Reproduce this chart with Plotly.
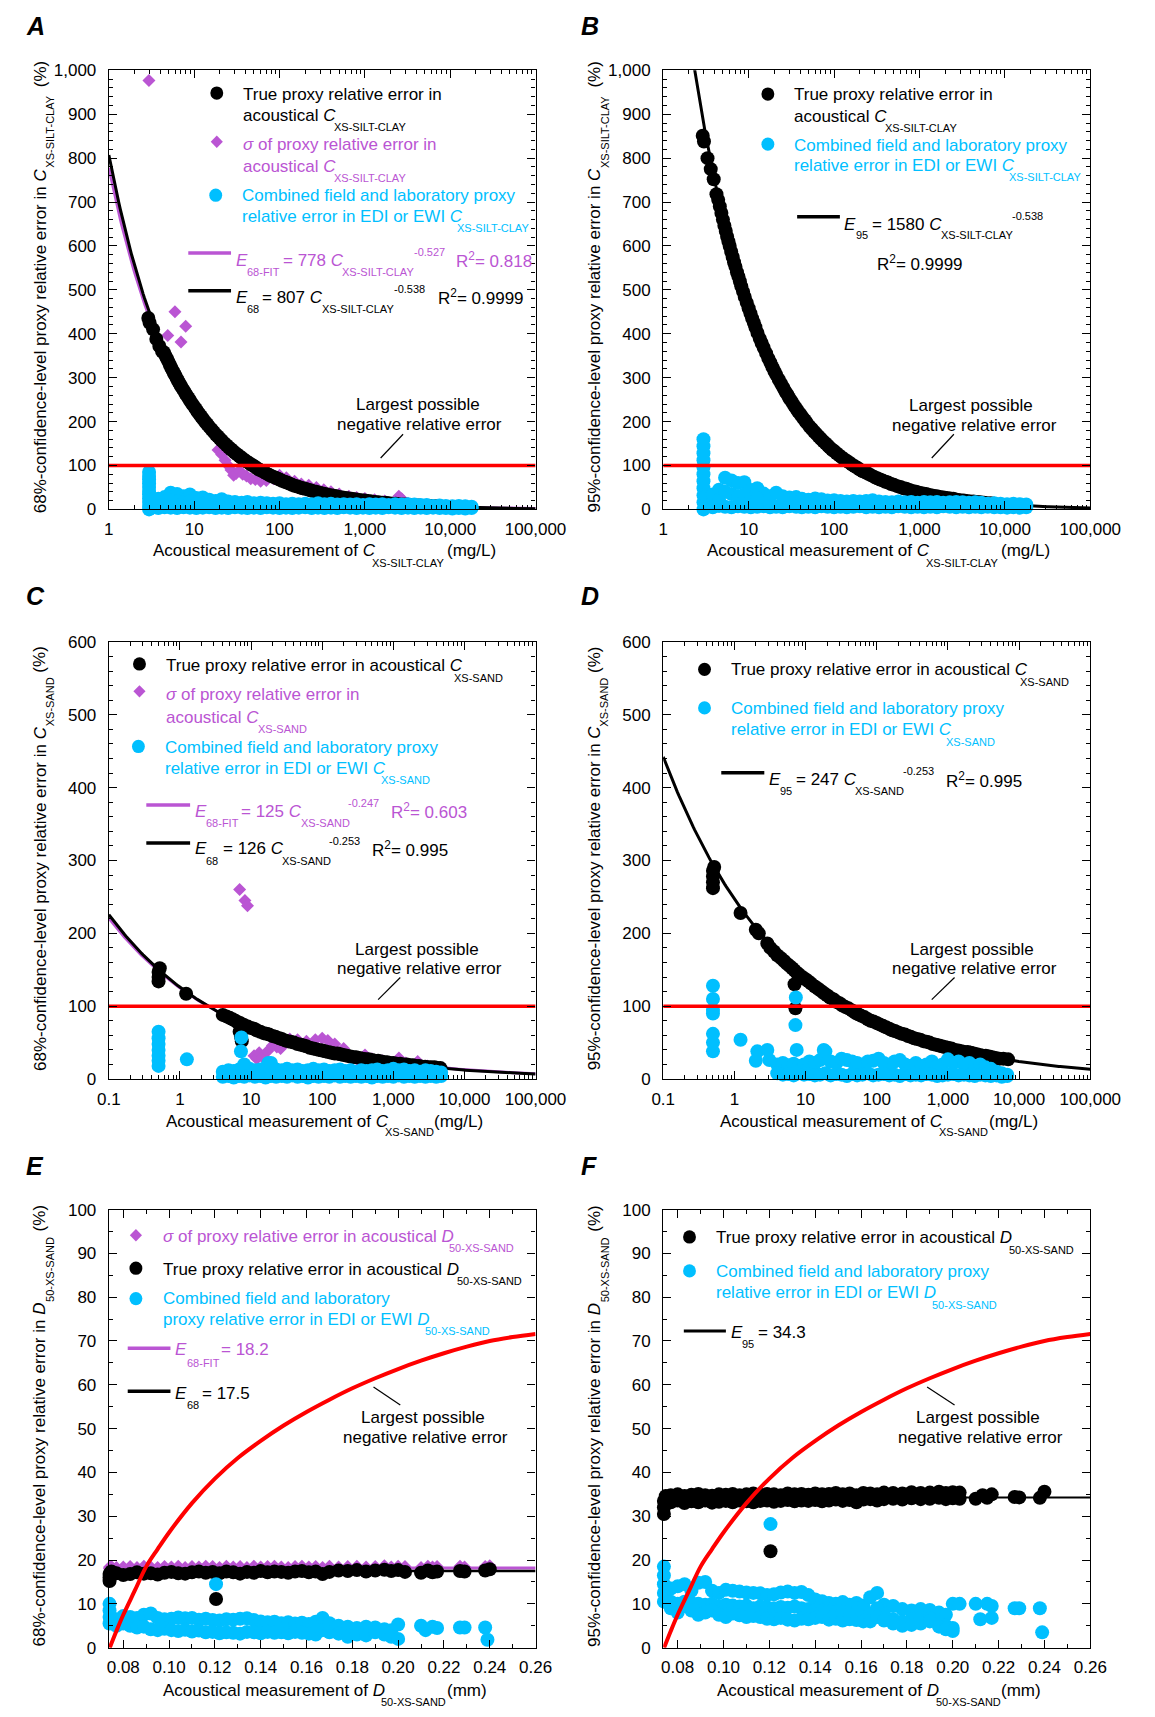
import numpy as np
import plotly.graph_objects as go

W, H = 1155, 1717
FONT = "Liberation Sans, Arial, Helvetica, sans-serif"
BLACK, PURPLE, CYAN, RED = "#000000", "#BA55D3", "#00BFFF", "#FF0000"

# ---------------- Silt-clay concentration (panels A and B) ----------------
silt_conc = [2.9, 3.0, 3.3, 3.6, 3.9, 4.2, 4.4, 4.6, 4.8, 5.0, 5.2, 5.4, 5.6, 5.8, 6.0, 6.25, 6.5, 6.75, 7.0, 7.3,
             7.6, 7.9, 8.2, 8.6, 9.0, 9.5, 10, 10.5, 11, 11.5, 12, 12.7, 13.5, 14.2, 15, 16, 17, 18, 19, 20,
             21, 22.5, 24, 25.5, 27, 28.5, 30, 32, 34, 36, 38, 40.5, 43, 45.5, 48, 51.5, 55, 58.5, 62, 66,
             70, 75, 80, 85, 90, 95, 100, 107, 115, 122, 130, 140, 150, 162, 175, 187, 200, 217, 235, 252,
             270, 295, 320, 345, 370, 400, 430, 465, 500, 550, 600, 650, 700, 765, 830, 915, 1000, 1100, 1200, 1320,
             1450, 1600, 1750, 1920, 2100, 2300, 2500, 2750, 3000, 3300, 3600, 3950, 4300, 4750, 5200, 5700, 6200,
             6850, 7500]
silt_true_e68 = [436, 425, 410, 388, 372, 360, 358, 350, 343, 336, 329, 322, 316, 310, 305, 298, 292, 286, 281, 275,
                 270, 264, 259, 253, 247, 240, 234, 228, 222, 217, 212, 206, 199, 194, 188, 182, 176, 170, 166, 161,
                 157, 151, 146, 141, 137, 133, 129, 125, 121, 117, 114, 110, 107, 103, 101, 97, 93, 90, 88, 85,
                 82, 79, 76, 74, 72, 70, 68, 65, 63, 61, 59, 56, 54, 52, 50, 48, 47, 45, 43, 41,
                 40, 38, 36, 35, 33, 32, 31, 30, 28, 27, 26, 25, 24, 23, 22, 21, 20, 19, 18, 17,
                 16, 15, 15, 14, 13, 13, 12, 11, 11, 10, 10, 9, 9, 8, 8, 8, 7,
                 7, 7]
silt_true_e95 = [851, 838, 800, 775, 752, 718, 705, 690, 675, 660, 646, 634, 621, 610, 600, 587, 575, 563, 553, 540,
                 530, 519, 508, 496, 484, 471, 458, 446, 435, 425, 415, 402, 389, 379, 368, 356, 344, 334, 324, 315,
                 307, 296, 286, 277, 268, 261, 253, 245, 237, 230, 223, 216, 209, 203, 197, 189, 183, 177, 172, 166,
                 161, 155, 150, 145, 140, 136, 133, 128, 123, 119, 115, 111, 107, 102, 98, 95, 91, 87, 84, 81,
                 78, 74, 71, 68, 66, 63, 61, 58, 56, 53, 51, 48, 47, 44, 42, 40, 38, 36, 35, 33,
                 31, 30, 28, 27, 26, 25, 24, 22, 21, 20, 19, 18, 18, 17, 16, 15, 14,
                 14, 13]

silt_sigma_conc = [2.95, 4.9, 5.95, 7.0, 7.95, 19, 21, 23, 25, 27, 29, 31, 34, 37, 41, 46, 52, 60, 70, 85,
                   100, 120, 150, 180, 220, 270, 330, 400, 500, 650, 800, 1000, 1300, 1700, 2200, 2500, 2700, 3200]
silt_sigma_e68 = [977, 396, 450, 381, 417, 135, 125, 112, 100, 90, 78, 82, 88, 80, 76, 70, 68, 64, 66, 70,
                  78, 72, 64, 58, 55, 50, 45, 40, 35, 30, 27, 25, 22, 19, 17, 30, 24, 14]

silt_edi_col_conc = [2.96] * 11
silt_edi_col_e68 = [0, 8, 17, 25, 34, 42, 51, 59, 68, 76, 85]
silt_edi_col_e95 = [0, 16, 32, 48, 64, 80, 96, 112, 128, 144, 160]
silt_edi_conc = [3.2, 3.8, 4.5, 5.3, 6.3, 7.5, 8.9, 10.6, 12.6, 15, 17.8, 21, 25, 30, 36, 42, 50, 60, 71, 84,
                 100, 119, 141, 168, 200, 238, 283, 336, 400, 475, 565, 672, 800, 950, 1130, 1340, 1600, 1900, 2260, 2690,
                 3200, 3800, 4500, 5300, 6300, 7500, 8900, 10600, 12600, 15000, 17800]
silt_edi_e68_hi = [22, 24, 28, 38, 35, 30, 34, 26, 27, 22, 19, 23, 18, 17, 15, 17, 14, 15, 14, 13,
                   14, 12, 13, 12, 13, 12, 14, 12, 13, 11, 12, 11, 12, 10, 12, 11, 12, 10, 12, 11,
                   12, 11, 10, 10, 8, 9, 8, 7, 8, 7, 6]
silt_edi_e68_lo = [4, 3, 5, 4, 3, 5, 4, 3, 4, 5, 3, 4, 3, 5, 4, 3, 4, 3, 5, 4,
                   3, 4, 3, 4, 5, 3, 4, 3, 4, 3, 5, 4, 3, 4, 3, 4, 3, 5, 4, 3,
                   4, 3, 4, 3, 4, 3, 3, 2, 3, 2, 3]
silt_edi_e95_hi = [30, 34, 45, 72, 66, 60, 62, 44, 48, 36, 30, 38, 30, 27, 28, 24, 22, 25, 23, 20,
                   21, 19, 18, 19, 18, 19, 21, 18, 17, 16, 18, 16, 17, 15, 17, 16, 17, 15, 16, 17,
                   16, 15, 16, 15, 13, 14, 13, 12, 13, 12, 11]
silt_edi_e95_lo = [6, 5, 8, 6, 5, 7, 6, 5, 6, 7, 5, 6, 5, 7, 6, 5, 6, 5, 7, 6,
                   5, 6, 5, 6, 7, 5, 6, 5, 6, 5, 7, 6, 5, 6, 5, 6, 5, 7, 6, 5,
                   6, 5, 6, 5, 6, 5, 5, 4, 5, 4, 5]
silt_edi_mid_conc = [4.5, 5.3, 6.3, 7.5, 8.9, 10.6, 12.6]
silt_edi_e68_mid = [14, 20, 18, 16, 18, 13, 13]
silt_edi_e95_mid = [22, 40, 35, 30, 34, 24, 25]

# ---------------- Sand concentration (panels C and D) ----------------
sand_conc_c = [0.5, 0.5, 0.5, 0.52, 1.22, 4.0, 4.5, 5.0, 5.5, 6.0, 6.5, 7.0, 7.5, 8.0, 9.0, 10, 11, 12, 13.5, 15,
               16.5, 18, 20, 22, 25, 27, 30, 33, 36, 40, 45, 50, 55, 60, 67, 75, 82, 90, 100, 110,
               122, 135, 150, 165, 180, 200, 225, 250, 275, 300, 335, 370, 410, 450, 500, 550, 610, 680, 750, 820,
               900, 1000, 1120, 1250, 1400, 1550, 1720, 1900, 2100, 2300, 2550, 2800, 3100, 3400, 3800, 4200, 4600,
               6.9, 7.2, 7.4]
sand_true_e68 = [134, 140, 147, 152, 117, 88, 86, 84, 82, 80, 78, 77, 75, 74, 72, 70, 69, 67, 65, 63,
                 62, 61, 59, 58, 56, 55, 53, 52, 51, 50, 48, 47, 46, 45, 43, 42, 41, 40, 39, 38,
                 37, 36, 35, 35, 34, 33, 32, 31, 30, 30, 29, 28, 27, 27, 26, 25, 25, 24, 23, 23,
                 22, 22, 21, 21, 20, 20, 19, 19, 18, 18, 17, 17, 16, 16, 16, 15, 15,
                 65, 58, 52]
sand_sigma_conc = [6.9, 8.2, 8.9, 11, 12, 13, 14.5, 17, 20, 23, 26, 30, 35, 45, 60, 80, 100, 120, 150, 200,
                   260, 310, 400, 500, 700, 900, 1200, 1500, 2200, 3000, 4000]
sand_sigma_e68 = [260, 245, 238, 32, 28, 36, 30, 38, 46, 44, 42, 50, 55, 54, 52, 54, 56, 53, 48, 42,
                  30, 27, 33, 28, 25, 23, 29, 22, 24, 18, 16]

sand_edi_col_conc = [0.5] * 7
sand_edi_col_e68 = [18, 25, 32, 40, 48, 56, 65]
sand_edi_col_e95 = [38, 50, 62, 90, 95, 110, 128]
sand_edi_extra_conc_c = [1.25, 7.3, 7.2, 17.5]
sand_edi_extra_e68 = [27, 57, 38, 22]
sand_edi_extra_conc_d = [1.22, 2.0, 2.1, 2.9, 3.1, 7.3, 7.2, 7.5, 18]
sand_edi_extra_e95 = [54, 25, 38, 40, 26, 112, 74, 40, 40]
sand_edi_conc_c = [4.0, 4.8, 5.7, 6.8, 8.0, 9.5, 11.3, 13.5, 16, 19, 22.5, 27, 32, 38, 45, 53, 63, 75, 89, 106,
                   126, 150, 178, 211, 251, 298, 354, 420, 500, 595, 707, 840, 1000, 1190, 1410, 1680, 2000, 2380, 2830, 3360,
                   4000, 4700]
sand_edi_e68_hi = [10, 12, 11, 13, 20, 14, 12, 13, 15, 22, 13, 12, 14, 12, 13, 11, 12, 14, 12, 13,
                   11, 12, 13, 11, 12, 10, 12, 11, 12, 13, 11, 12, 14, 12, 13, 11, 12, 10, 12, 11,
                   10, 9]
sand_edi_e68_lo = [3, 4, 2, 4, 3, 5, 3, 4, 2, 4, 3, 4, 3, 5, 3, 4, 2, 4, 3, 4,
                   3, 5, 3, 4, 3, 4, 3, 4, 2, 4, 3, 4, 3, 5, 3, 4, 3, 4, 3, 4,
                   3, 4]
sand_edi_conc_d = [4.0, 4.8, 5.7, 6.8, 8.0, 9.5, 11.3, 13.5, 16, 19, 22.5, 27, 32, 38, 45, 53, 63, 75, 89, 106,
                   126, 150, 178, 211, 251, 298, 354, 420, 500, 595, 707, 840, 1000, 1190, 1410, 1680, 2000, 2380, 2830, 3360,
                   4000, 4800, 5700, 6800]
sand_edi_e95_hi = [20, 22, 19, 21, 18, 20, 24, 22, 26, 38, 24, 22, 28, 26, 24, 22, 20, 24, 25, 28,
                   22, 20, 24, 26, 20, 18, 22, 18, 20, 24, 18, 20, 27, 22, 24, 20, 22, 18, 20, 16,
                   14, 10, 8, 6]
sand_edi_e95_lo = [8, 6, 7, 5, 8, 6, 7, 5, 6, 8, 5, 7, 6, 4, 7, 5, 6, 8, 5, 6,
                   7, 5, 6, 4, 7, 5, 6, 5, 7, 6, 4, 5, 6, 7, 5, 6, 5, 4, 6, 5,
                   4, 5, 3, 4]

sand_conc_d = [0.5, 0.5, 0.5, 0.5, 0.52, 1.22, 2.0, 2.2, 2.9, 3.2, 3.6, 4.0, 4.5, 5.0, 5.5, 6.0, 6.5, 7.0, 7.5, 8.0,
               9.0, 10, 11, 12, 13.5, 15, 16.5, 18, 20, 22, 25, 27, 30, 33, 36, 40, 45, 50, 55, 60,
               67, 75, 82, 90, 100, 110, 122, 135, 150, 165, 180, 200, 225, 250, 275, 300, 335, 370, 410, 450,
               500, 550, 610, 680, 750, 820, 900, 1000, 1120, 1250, 1400, 1550, 1720, 1900, 2100, 2300, 2550, 2800, 3100, 3400,
               3800, 4200, 4700, 5300, 6000, 7000, 7.0, 7.2]
sand_true_e95 = [262, 270, 278, 286, 291, 228, 205, 200, 186, 180, 175, 170, 166, 162, 158, 155, 152, 149, 146, 144,
                 140, 137, 134, 131, 127, 124, 121, 118, 115, 112, 109, 106, 104, 101, 99, 97, 94, 91, 89, 87,
                 85, 82, 80, 79, 77, 75, 73, 71, 69, 67, 66, 64, 62, 61, 59, 58, 56, 55, 54, 52,
                 51, 50, 48, 47, 46, 45, 44, 43, 42, 40, 39, 38, 37, 37, 36, 35, 34, 33, 32, 32,
                 31, 30, 29, 28, 28, 27, 130, 97]

# ---------------- Median sand size (panels E and F) ----------------
d50_true = [0.074, 0.074, 0.074, 0.0748, 0.077, 0.080, 0.083, 0.086, 0.089, 0.092, 0.095, 0.098, 0.101, 0.104,
            0.107, 0.110, 0.113, 0.116, 0.119, 0.122, 0.125, 0.128, 0.131, 0.134, 0.137, 0.140, 0.143, 0.146,
            0.149, 0.152, 0.155, 0.158, 0.161, 0.164, 0.167, 0.170, 0.174, 0.178, 0.182, 0.186, 0.190, 0.194,
            0.197, 0.200, 0.203, 0.210, 0.213, 0.215, 0.217, 0.227, 0.229, 0.238, 0.240, 0.1205]
d50_true_e68 = [15.2, 16.0, 16.8, 17.4, 17.0, 16.6, 16.8, 17.2, 16.9, 17.0, 16.7, 17.1, 17.3, 17.0,
                16.9, 17.2, 17.4, 17.1, 17.3, 17.0, 17.4, 17.2, 16.9, 17.3, 17.1, 17.5, 17.2, 17.4,
                17.3, 17.1, 17.4, 17.5, 17.2, 17.4, 16.8, 17.3, 17.6, 17.5, 17.7, 17.4, 17.6, 17.8,
                17.5, 17.7, 17.3, 17.1, 17.6, 17.2, 17.4, 17.5, 17.4, 17.6, 17.9, 11.1]
d50_true_e95 = [30.5, 32.0, 33.5, 34.6,
                33.2, 33.6, 33.0, 33.4, 33.2, 33.6, 33.1, 33.3, 33.5, 33.2, 33.6, 33.4, 33.2, 33.5, 33.6, 33.3,
                33.5, 33.7, 33.4, 33.6, 33.5, 33.7, 33.4, 33.6, 33.8, 33.5, 33.7, 33.2, 33.8, 33.9, 33.6, 33.9,
                34.0, 33.8, 34.1, 33.9, 34.0, 34.2, 33.9, 34.1, 34.0,
                34.0, 34.8, 34.2, 35.0, 34.4, 34.3, 34.2, 35.6, 22.0]
# upper edge of the dense band (samples d50_true[4:45])
d50_true_e95_upper = [34.8, 35.0, 34.6, 34.9, 35.1, 34.8, 34.7, 35.0, 34.9, 35.1, 34.8, 35.0, 35.2, 34.9,
                      35.1, 35.0, 34.8, 35.2, 35.0, 35.1, 34.9, 35.2, 35.0, 35.1, 35.3, 35.0, 35.2, 34.8,
                      35.3, 35.2, 35.0, 35.4, 35.3, 35.2, 35.5, 35.3, 35.4, 35.6, 35.3, 35.5, 35.4]
d50_sigma_e68 = [18.0, 18.2, 18.4, 18.5, 18.3, 18.4, 18.5, 18.3, 18.6, 18.4, 18.3, 18.5, 18.4, 18.6,
                 18.3, 18.5, 18.4, 18.6, 18.5, 18.3, 18.6, 18.4, 18.5, 18.3, 18.6, 18.4, 18.5, 18.6,
                 18.4, 18.3, 18.5, 18.6, 18.4, 18.5, 18.3, 18.6, 18.4, 18.5, 18.6, 18.4, 18.5, 18.7,
                 18.4, 18.6, 18.5, 18.3, 18.6, 18.4, 18.5, 18.6, 18.4, 18.5, 18.7]

d50_edi = [0.077, 0.080, 0.083, 0.086, 0.089, 0.092, 0.095, 0.098, 0.101, 0.104,
           0.107, 0.110, 0.113, 0.116, 0.119, 0.122, 0.125, 0.128, 0.131, 0.134,
           0.137, 0.140, 0.143, 0.146, 0.149, 0.152, 0.155, 0.158, 0.161, 0.164,
           0.167, 0.170, 0.174, 0.178, 0.182, 0.186, 0.190, 0.194, 0.197, 0.200]
d50_edi_e68_hi = [6.5, 7.2, 7.0, 6.8, 7.5, 7.8, 6.8, 6.5, 6.6, 6.9, 6.7, 6.8, 6.4, 6.6, 6.3, 6.2, 6.5, 6.4, 6.6, 6.7,
                  6.3, 6.0, 5.8, 5.9, 5.6, 5.8, 5.5, 5.7, 5.4, 5.9, 6.8, 5.6, 5.0, 4.8, 4.5, 4.8, 4.6, 4.2, 4.0, 5.3]
d50_edi_e68_lo = [5.0, 5.5, 5.0, 4.6, 4.8, 4.2, 4.0, 4.3, 4.0, 3.8, 4.1, 3.7, 3.9, 3.5, 3.6, 3.3, 3.5, 3.4, 3.2, 3.6,
                  3.5, 3.3, 3.6, 3.4, 3.5, 3.3, 3.6, 3.4, 3.2, 3.0, 4.0, 3.5, 3.2, 2.5, 3.0, 2.8, 3.5, 3.0, 2.5, 2.0]
d50_edi_e95_hi = [13.5, 14.0, 14.5, 13.0, 14.8, 15.0, 13.0, 12.5, 13.2, 13.0, 12.8, 12.6, 12.5, 12.4, 12.0, 12.2, 12.6, 12.8, 12.5, 12.7,
                  12.0, 11.0, 10.6, 10.2, 10.0, 10.4, 9.8, 10.2, 9.6, 11.5, 12.5, 9.8, 9.5, 8.8, 8.5, 8.8, 8.6, 8.0, 7.5, 10.0]
d50_edi_e95_mid = [10.5, 10.0, 10.5, 10.2, 10.0, 9.8, 10.0, 9.5, 9.8, 9.6, 9.4, 9.6, 9.0, 9.4, 9.2, 9.0, 9.3, 9.1, 9.4, 9.0,
                   8.8, 8.6, 8.4, 8.2, 8.0, 8.2, 7.8, 8.0, 7.6, 7.8, 9.0, 7.6, 6.5, 6.0, 6.5, 6.2, 6.8, 5.5, 5.0, 4.5]
d50_edi_e95_lo = [9.0, 8.0, 9.5, 8.5, 7.5, 8.0, 8.5, 7.5, 7.0, 7.8, 7.4, 7.0, 7.2, 7.0, 6.6, 6.5, 6.8, 6.4, 6.2, 6.6,
                  6.5, 6.8, 7.0, 6.4, 6.6, 6.2, 6.5, 6.3, 6.0, 6.0, 7.0, 6.2, 5.5, 5.0, 5.2, 5.5, 6.0, 4.8, 4.2, 3.8]
d50_edi_col_e68 = [5.5, 7.0, 8.5, 10.0]
d50_edi_col_e95 = [10.5, 12.5, 14.5, 16.5, 18.5]
d50_edi_extra_e = [0.1205, 0.210, 0.212, 0.215, 0.217, 0.227, 0.229, 0.238, 0.239]
d50_edi_extra_e68 = [14.5, 5.0, 4.0, 4.8, 4.5, 4.6, 4.6, 4.6, 1.8]
d50_edi_extra_f = [0.1205, 0.203, 0.210, 0.212, 0.215, 0.217, 0.217, 0.227, 0.229, 0.238, 0.239]
d50_edi_extra_e95 = [28.2, 10.0, 10.0, 6.5, 10.0, 9.5, 6.8, 9.0, 9.0, 9.0, 3.5]

# largest possible negative relative error
limit_conc_pct = 100
d50_limit_x = [0.0741, 0.077, 0.080, 0.085, 0.090, 0.095, 0.100, 0.110, 0.120, 0.130, 0.140, 0.150,
               0.160, 0.170, 0.180, 0.190, 0.200, 0.210, 0.220, 0.230, 0.240, 0.250, 0.260]
d50_limit_pct = [0, 3.8, 7.5, 13.0, 18.5, 22.5, 26.3, 33.0, 38.6, 43.3, 47.2, 50.7,
                 53.8, 56.6, 59.2, 61.5, 63.6, 65.5, 67.2, 68.7, 70.0, 70.9, 71.6]

# fitted power laws (coefficient, exponent) and constant fits
fit_a_sigma = (778, -0.527)
fit_a_true = (807, -0.538)
fit_b_true = (1580, -0.538)
fit_c_sigma = (125, -0.247)
fit_c_true = (126, -0.253)
fit_d_true = (247, -0.253)
fit_e_sigma = 18.2
fit_e_true = 17.5
fit_f_true = 34.3

# ---------------- figure ----------------
fig = go.Figure()
DOT = 14


def ax(i):
    return ("x" if i == 1 else f"x{i}", "y" if i == 1 else f"y{i}")


def dots(i, x, y, color, size=DOT, symbol="circle"):
    xa, ya = ax(i)
    fig.add_trace(go.Scatter(x=x, y=y, mode="markers", xaxis=xa, yaxis=ya, cliponaxis=False,
                             marker=dict(color=color, size=size, symbol=symbol, line=dict(width=0)),
                             hoverinfo="skip"))


def curve(i, x, y, color, width=3, shape="linear"):
    xa, ya = ax(i)
    fig.add_trace(go.Scatter(x=x, y=y, mode="lines", xaxis=xa, yaxis=ya,
                             line=dict(color=color, width=width, shape=shape), hoverinfo="skip"))


def power_fit(coef_exp, lo, hi):
    c, e = coef_exp
    xs = np.logspace(lo, hi, 300)
    return xs, c * xs ** e


# Panel A
dots(1, silt_sigma_conc, silt_sigma_e68, PURPLE, size=10, symbol="diamond")
curve(1, *power_fit(fit_a_sigma, 0, 5), PURPLE, 3)
dots(1, silt_conc, silt_true_e68, BLACK)
curve(1, *power_fit(fit_a_true, 0, 5), BLACK, 3)
dots(1, silt_edi_col_conc + silt_edi_conc + silt_edi_conc + silt_edi_mid_conc,
     silt_edi_col_e68 + silt_edi_e68_hi + silt_edi_e68_lo + silt_edi_e68_mid, CYAN)
curve(1, [1, 1e5], [limit_conc_pct, limit_conc_pct], RED, 3.5)

# Panel B
dots(2, silt_conc, silt_true_e95, BLACK)
curve(2, *power_fit(fit_b_true, 0, 5), BLACK, 3)
dots(2, silt_edi_col_conc + silt_edi_conc + silt_edi_conc + silt_edi_mid_conc,
     silt_edi_col_e95 + silt_edi_e95_hi + silt_edi_e95_lo + silt_edi_e95_mid, CYAN)
curve(2, [1, 1e5], [limit_conc_pct, limit_conc_pct], RED, 3.5)

# Panel C
dots(3, sand_sigma_conc, sand_sigma_e68, PURPLE, size=10, symbol="diamond")
curve(3, *power_fit(fit_c_sigma, -1, 5), PURPLE, 3)
dots(3, sand_conc_c, sand_true_e68, BLACK)
curve(3, *power_fit(fit_c_true, -1, 5), BLACK, 3)
dots(3, sand_edi_col_conc + sand_edi_extra_conc_c + sand_edi_conc_c + sand_edi_conc_c,
     sand_edi_col_e68 + sand_edi_extra_e68 + sand_edi_e68_hi + sand_edi_e68_lo, CYAN)
curve(3, [0.1, 1e5], [limit_conc_pct, limit_conc_pct], RED, 3.5)

# Panel D
dots(4, sand_conc_d, sand_true_e95, BLACK)
curve(4, *power_fit(fit_d_true, -1, 5), BLACK, 3)
dots(4, sand_edi_col_conc + sand_edi_extra_conc_d + sand_edi_conc_d + sand_edi_conc_d,
     sand_edi_col_e95 + sand_edi_extra_e95 + sand_edi_e95_hi + sand_edi_e95_lo, CYAN)
curve(4, [0.1, 1e5], [limit_conc_pct, limit_conc_pct], RED, 3.5)

# Panel E
D_LO, D_HI = 0.0737, 0.26
dots(5, d50_true[:-1], d50_sigma_e68, PURPLE, size=10, symbol="diamond")
curve(5, [D_LO, D_HI], [fit_e_sigma, fit_e_sigma], PURPLE, 3)
dots(5, d50_true, d50_true_e68, BLACK)
curve(5, [D_LO, D_HI], [fit_e_true, fit_e_true], BLACK, 2.5)
dots(5, [0.074] * len(d50_edi_col_e68) + d50_edi + d50_edi + d50_edi_extra_e,
     d50_edi_col_e68 + d50_edi_e68_hi + d50_edi_e68_lo + d50_edi_extra_e68, CYAN)
curve(5, d50_limit_x, d50_limit_pct, RED, 4, "spline")

# Panel F
dots(6, d50_true + d50_true[4:45], d50_true_e95 + d50_true_e95_upper, BLACK)
curve(6, [D_LO, D_HI], [fit_f_true, fit_f_true], BLACK, 2)
dots(6, [0.074] * len(d50_edi_col_e95) + d50_edi + d50_edi + d50_edi + d50_edi_extra_f,
     d50_edi_col_e95 + d50_edi_e95_hi + d50_edi_e95_mid + d50_edi_e95_lo + d50_edi_extra_e95, CYAN)
curve(6, d50_limit_x, d50_limit_pct, RED, 4, "spline")

# ---------------- axes ----------------
COL_X = [(100.6, 543.8), (676.4, 1120.0)]
ROW_Y = [(62, 506), (640, 1082), (1214, 1657)]

common = dict(showline=True, linecolor=BLACK, linewidth=1.3, mirror="ticks", ticks="inside",
              ticklen=8, tickwidth=1.2, tickcolor=BLACK, showgrid=False, zeroline=False,
              tickfont=dict(family=FONT, size=17, color=BLACK))

conc_ticks_silt = [1, 10, 100, 1000, 10000, 100000]
conc_text_silt = ["1", "10", "100", "1,000", "10,000", "100,000"]
conc_ticks_sand = [0.1, 1, 10, 100, 1000, 10000, 100000]
conc_text_sand = ["0.1", "1", "10", "100", "1,000", "10,000", "100,000"]
d50_ticks = [0.08, 0.10, 0.12, 0.14, 0.16, 0.18, 0.20, 0.22, 0.24, 0.26]
d50_text = ["0.08", "0.10", "0.12", "0.14", "0.16", "0.18", "0.20", "0.22", "0.24", "0.26"]
err_ticks_1000 = list(range(0, 1001, 100))
err_text_1000 = [str(v) if v < 1000 else "1,000" for v in err_ticks_1000]

layout_axes = {}
for i in range(1, 7):
    col = (i - 1) % 2
    row = (i - 1) // 2
    xd = [COL_X[col][0] / W, COL_X[col][1] / W]
    yd = [1 - ROW_Y[row][1] / H, 1 - ROW_Y[row][0] / H]
    xa, ya = ax(i)
    xkey = "xaxis" if i == 1 else f"xaxis{i}"
    ykey = "yaxis" if i == 1 else f"yaxis{i}"
    minor_log = dict(ticks="inside", ticklen=4, tickwidth=1, tickcolor=BLACK, dtick="D1", showgrid=False)
    if row == 0:
        xcfg = dict(type="log", range=[0, 5], tickvals=conc_ticks_silt, ticktext=conc_text_silt, minor=minor_log)
        ycfg = dict(range=[0, 1000], tickvals=err_ticks_1000, ticktext=err_text_1000,
                    minor=dict(ticks="inside", ticklen=4, tickwidth=1, tickcolor=BLACK, dtick=20, showgrid=False))
    elif row == 1:
        xcfg = dict(type="log", range=[-1, 5], tickvals=conc_ticks_sand, ticktext=conc_text_sand, minor=minor_log)
        ycfg = dict(range=[0, 600], dtick=100,
                    minor=dict(ticks="inside", ticklen=4, tickwidth=1, tickcolor=BLACK, dtick=20, showgrid=False))
    else:
        xcfg = dict(range=[D_LO, D_HI], tickvals=d50_ticks, ticktext=d50_text,
                    minor=dict(ticks="inside", ticklen=4, tickwidth=1, tickcolor=BLACK, dtick=0.01, tick0=0,
                               showgrid=False))
        ycfg = dict(range=[0, 100], dtick=10,
                    minor=dict(ticks="inside", ticklen=4, tickwidth=1, tickcolor=BLACK, dtick=5, showgrid=False))
    layout_axes[xkey] = dict(domain=xd, anchor=ya, ticklabelstandoff=4, **common, **xcfg)
    layout_axes[ykey] = dict(domain=yd, anchor=xa, ticklabelstandoff=8, **common, **ycfg)

# ---------------- text and legend glyphs ----------------
ann = []
shapes = []


def note(x, y, text, size=17, color=BLACK, xanchor="left", angle=0):
    ann.append(dict(x=x / W, y=1 - y / H, xref="paper", yref="paper", text=text, showarrow=False,
                    xanchor=xanchor, yanchor="middle", textangle=angle, borderpad=0,
                    font=dict(family=FONT, size=size, color=color)))


def seg(x0, y0, x1, y1, color=BLACK, width=1):
    shapes.append(dict(type="line", xref="paper", yref="paper", x0=x0 / W, y0=1 - y0 / H,
                       x1=x1 / W, y1=1 - y1 / H, line=dict(color=color, width=width)))


def dot(cx, cy, color, r=6.7):
    shapes.append(dict(type="circle", xref="paper", yref="paper", x0=(cx - r) / W, x1=(cx + r) / W,
                       y0=1 - (cy + r) / H, y1=1 - (cy - r) / H, fillcolor=color, line=dict(width=0)))


def diamond(cx, cy, color, r=6.3):
    path = (f"M {cx / W},{1 - (cy - r) / H} L {(cx + r) / W},{1 - cy / H} "
            f"L {cx / W},{1 - (cy + r) / H} L {(cx - r) / W},{1 - cy / H} Z")
    shapes.append(dict(type="path", xref="paper", yref="paper", path=path, fillcolor=color,
                       line=dict(width=0)))


SUB = 11

# panel letters
for lx, ly, letter in [(13, 17.5, "A"), (590, 17.5, "B"), (13, 593.5, "C"), (590, 593.5, "D"),
                       (13, 1170, "E"), (590, 1170, "F")]:
    note(lx, ly, f"<b><i>{letter}</i></b>", size=25)

# axis titles
for col, dx in enumerate([0, 575.8]):
    for row, (ymain, ysub, ypct, sub, var) in enumerate([
            (335, 124, 66, "XS-SILT-CLAY", "C"),
            (899, 701, 658, "XS-SAND", "C"),
            (1482, 1275, 1223, "50-XS-SAND", "D")]):
        level = "68%" if col == 0 else "95%"
        note(29 + dx, ymain, f"{level}-confidence-level proxy relative error in <i>{var}</i>",
             xanchor="center", angle=-90)
        note(39.5 + dx, ysub, sub, SUB, xanchor="center", angle=-90)
        note(29 + dx, ypct, "(%)", xanchor="center", angle=-90)

xtitles = [
    (145.4, 372.5, 450.5, 548, 560, "C", "XS-SILT-CLAY", "(mg/L)"),
    (159.0, 386.0, 437.5, 1125, 1136, "C", "XS-SAND", "(mg/L)"),
    (155.4, 382.5, 450.5, 1700, 1712, "D", "50-XS-SAND", "(mm)"),
]
for dx in [0, 575.8]:
    for xm, xs, xu, ym, ys, var, sub, unit in xtitles:
        note(xm + dx, ym, f"Acoustical measurement of <i>{var}</i>")
        note(xs + dx, ys, sub, SUB)
        note(xu + dx, ym, unit)

# ----- panel A legend -----
dot(212.7, 85, BLACK)
note(238.6, 86, "True proxy relative error in")
note(238.6, 107.3, "acoustical <i>C</i>")
note(333.5, 119, "XS-SILT-CLAY", SUB)
diamond(212.7, 134.3, PURPLE)
note(238.6, 136.7, "<i>σ</i> of proxy relative error in", color=PURPLE)
note(238.6, 159.3, "acoustical <i>C</i>", color=PURPLE)
note(333.5, 171, "XS-SILT-CLAY", SUB, PURPLE)
dot(211.6, 188.3, CYAN)
note(237.5, 189, "Combined field and laboratory proxy", color=CYAN)
note(237.5, 210, "relative error in EDI or EWI <i>C</i>", color=CYAN)
note(461.5, 221.7, "XS-SILT-CLAY", SUB, CYAN)
seg(183.1, 246.7, 227.5, 246.7, PURPLE, 3.5)
note(231.2, 254, "<i>E</i>", color=PURPLE)
note(243, 266, "68-FIT", SUB, PURPLE)
note(280, 254, f"= {fit_a_sigma[0]} <i>C</i>", color=PURPLE)
note(341.5, 266, "XS-SILT-CLAY", SUB, PURPLE)
note(416, 246, f"{fit_a_sigma[1]}", SUB, PURPLE)
note(460.6, 254, "R<sup>2</sup>= 0.818", color=PURPLE)
seg(183.1, 285, 227.5, 285, BLACK, 3.5)
note(231.2, 291.7, "<i>E</i>")
note(243, 303.3, "68", SUB)
note(259, 291.7, f"= {fit_a_true[0]} <i>C</i>")
note(321, 303.3, "XS-SILT-CLAY", SUB)
note(396, 283.3, f"{fit_a_true[1]}", SUB)
note(441, 291.7, "R<sup>2</sup>= 0.9999")

# ----- panel B legend -----
dot(785.1, 86, BLACK)
note(811, 86.3, "True proxy relative error in")
note(811, 108.3, "acoustical <i>C</i>")
note(905.5, 120, "XS-SILT-CLAY", SUB)
dot(785.1, 136.7, CYAN)
note(811, 137.7, "Combined field and laboratory proxy", color=CYAN)
note(811, 158.3, "relative error in EDI or EWI <i>C</i>", color=CYAN)
note(1034.5, 170, "XS-SILT-CLAY", SUB, CYAN)
seg(815.5, 210, 859.9, 210, BLACK, 3.5)
note(863.6, 217.7, "<i>E</i>")
note(875.5, 229, "95", SUB)
note(892.4, 217.7, f"= {fit_b_true[0]} <i>C</i>")
note(963.5, 229, "XS-SILT-CLAY", SUB)
note(1038, 209, f"{fit_b_true[1]}", SUB)
note(897.6, 257, "R<sup>2</sup>= 0.9999")

# ----- panel C legend -----
dot(132.4, 662.3, BLACK)
note(159.1, 664.3, "True proxy relative error in acoustical <i>C</i>")
note(458.5, 676, "XS-SAND", SUB)
diamond(132.4, 690, PURPLE)
note(159.1, 692.7, "<i>σ</i> of proxy relative error in", color=PURPLE)
note(159.1, 716, "acoustical <i>C</i>", color=PURPLE)
note(254, 727.7, "XS-SAND", SUB, PURPLE)
dot(131.3, 745.7, CYAN)
note(158, 746.7, "Combined field and laboratory proxy", color=CYAN)
note(158, 768.3, "relative error in EDI or EWI <i>C</i>", color=CYAN)
note(382, 780, "XS-SAND", SUB, CYAN)
seg(139.5, 805, 185, 805, PURPLE, 3.5)
note(188.7, 811, "<i>E</i>", color=PURPLE)
note(200.5, 823.3, "68-FIT", SUB, PURPLE)
note(236.8, 811, f"= {fit_c_sigma[0]} <i>C</i>", color=PURPLE)
note(299, 823.3, "XS-SAND", SUB, PURPLE)
note(348, 802.7, f"{fit_c_sigma[1]}", SUB, PURPLE)
note(392.9, 811, "R<sup>2</sup>= 0.603", color=PURPLE)
seg(139.5, 843.3, 185, 843.3, BLACK, 3.5)
note(188.7, 849.3, "<i>E</i>")
note(200.5, 861.7, "68", SUB)
note(218.3, 849.3, f"= {fit_c_true[0]} <i>C</i>")
note(279.5, 861.7, "XS-SAND", SUB)
note(328.5, 841, f"{fit_c_true[1]}", SUB)
note(372.9, 849.3, "R<sup>2</sup>= 0.995")

# ----- panel D legend -----
dot(719.3, 667.7, BLACK)
note(745.9, 668.3, "True proxy relative error in acoustical <i>C</i>")
note(1045.5, 681, "XS-SAND", SUB)
dot(719.3, 706.7, CYAN)
note(745.9, 707.7, "Combined field and laboratory proxy", color=CYAN)
note(745.9, 728.3, "relative error in EDI or EWI <i>C</i>", color=CYAN)
note(969.5, 740.7, "XS-SAND", SUB, CYAN)
seg(736.7, 772.3, 781.4, 772.3, BLACK, 3.5)
note(785.1, 779.3, "<i>E</i>")
note(797, 791, "95", SUB)
note(813.6, 779.3, f"= {fit_d_true[0]} <i>C</i>")
note(875, 791, "XS-SAND", SUB)
note(924.5, 771, f"{fit_d_true[1]}", SUB)
note(969.4, 779.3, "R<sup>2</sup>= 0.995")

# ----- panel E legend -----
diamond(128.7, 1240, PURPLE)
note(155.4, 1241.7, "<i>σ</i> of proxy relative error in acoustical <i>D</i>", color=PURPLE)
note(453, 1253.3, "50-XS-SAND", SUB, PURPLE)
dot(128.7, 1273.3, BLACK)
note(155.4, 1274.3, "True proxy relative error in acoustical <i>D</i>")
note(461, 1286, "50-XS-SAND", SUB)
dot(128.7, 1304, CYAN)
note(155.4, 1304.3, "Combined field and laboratory", color=CYAN)
note(155.4, 1325, "proxy relative error in EDI or EWI <i>D</i>", color=CYAN)
note(428, 1336.7, "50-XS-SAND", SUB, CYAN)
seg(120.2, 1354.3, 164.6, 1354.3, PURPLE, 3.5)
note(168.3, 1356, "<i>E</i>", color=PURPLE)
note(180.5, 1369, "68-FIT", SUB, PURPLE)
note(216.4, 1356, f"= {fit_e_sigma}", color=PURPLE)
seg(120.2, 1397.7, 164.6, 1397.7, BLACK, 3.5)
note(168.3, 1400, "<i>E</i>")
note(180.5, 1411.7, "68", SUB)
note(196.8, 1400, f"= {fit_e_true}")

# ----- panel F legend -----
dot(703.7, 1241.7, BLACK)
note(730.4, 1242.7, "True proxy relative error in acoustical <i>D</i>")
note(1034, 1255, "50-XS-SAND", SUB)
dot(703.7, 1276, CYAN)
note(730.4, 1276.7, "Combined field and laboratory proxy", color=CYAN)
note(730.4, 1297.7, "relative error in EDI or EWI <i>D</i>", color=CYAN)
note(955, 1310, "50-XS-SAND", SUB, CYAN)
seg(697.8, 1336.7, 741.5, 1336.7, BLACK, 3)
note(745.9, 1338.3, "<i>E</i>")
note(757.5, 1350, "95", SUB)
note(774, 1338.3, f"= {fit_f_true}")

# ----- "largest possible negative relative error" labels -----
for (x1, y1, x2, y2, lx0, ly0, lx1, ly1) in [
        (422, 400, 423, 420, 382.9, 454, 406.2, 430),
        (996.4, 400.7, 999.3, 420.7, 955.3, 454, 978.3, 430),
        (421, 950.7, 423, 970, 380.3, 1001.7, 403.3, 979.3),
        (997, 950.7, 999.3, 970, 955.3, 1001.7, 979, 979.3),
        (427.3, 1424, 429.7, 1444, 375.5, 1393.3, 403.3, 1411.7),
        (1002.9, 1424, 1005.6, 1444, 950.5, 1393.3, 979, 1411.7)]:
    note(x1, y1, "Largest possible", xanchor="center")
    note(x2, y2, "negative relative error", xanchor="center")
    seg(lx0, ly0, lx1, ly1, BLACK, 1.2)

fig.update_layout(
    width=W, height=H, autosize=False,
    margin=dict(l=0, r=0, t=0, b=0),
    paper_bgcolor="white", plot_bgcolor="white",
    showlegend=False,
    font=dict(family=FONT, size=17, color=BLACK),
    annotations=ann, shapes=shapes,
    **layout_axes,
)

fig.write_html("out.html")
